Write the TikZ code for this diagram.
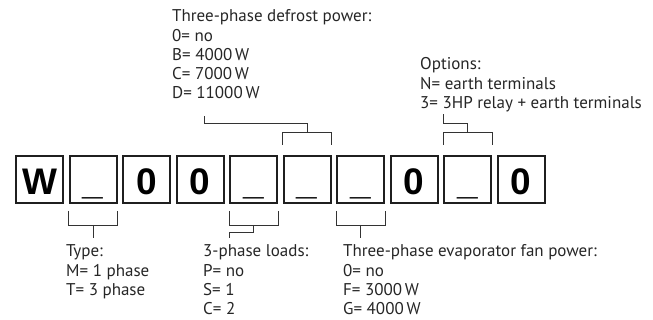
\documentclass[tikz,border=0pt]{standalone}
\usepackage{fontspec}
\setmainfont{PT Sans}
\newfontfamily\boxfont{Liberation Sans}
\usetikzlibrary{calc}
\newcommand\blocklines[1]{\vtop{\baselineskip=19.2pt\lineskiplimit=-50pt #1}}
\begin{document}
\begin{tikzpicture}[x=1pt,y=-1pt,
  cell/.style={draw=black!88,line width=2pt,minimum size=47pt,inner sep=0pt,
    text height=31pt,text depth=0pt,font=\boxfont\bfseries\fontsize{37}{37}\selectfont},
  lbl/.style={anchor=base west,inner sep=0pt,font=\fontsize{17}{20}\selectfont,text=black!85},
  br/.style={draw=black!80,line width=0.9pt}]
\useasboundingbox (0,0) rectangle (653,320);
% code boxes
\node[cell] (b1)  at (39.5,179.5) {W};
\node[cell] (b2)  at (93,179.5)   {\_};
\node[cell] (b3)  at (146.5,179.5){0};
\node[cell] (b4)  at (200,179.5)  {0};
\node[cell] (b5)  at (253.5,179.5){\_};
\node[cell] (b6)  at (307,179.5)  {\_};
\node[cell] (b7)  at (360.5,179.5){\_};
\node[cell] (b8)  at (414,179.5)  {0};
\node[cell] (b9)  at (467.5,179.5){\_};
\node[cell] (b10) at (521,179.5)  {0};
% labels
\node[lbl] (defrost) at (172,22) {\blocklines{\hbox{Three-phase defrost power:}\hbox{0= no}\hbox{B= 4000\,W}\hbox{C= 7000\,W}\hbox{D= 11000\,W}}};
\node[lbl] (options) at (420,70) {\blocklines{\hbox{Options:}\hbox{N= earth terminals}\hbox{3= 3HP relay + earth terminals}}};
\node[lbl] (type) at (66,257) {\blocklines{\hbox{Type:}\hbox{M= 1 phase}\hbox{T= 3 phase}}};
\node[lbl] (loads) at (203,257) {\blocklines{\hbox{3-phase loads:}\hbox{P= no}\hbox{S= 1}\hbox{C= 2}}};
\node[lbl] (evap) at (343,257) {\blocklines{\hbox{Three-phase evaporator fan power:}\hbox{0= no}\hbox{F= 3000\,W}\hbox{G= 4000\,W}}};
% bottom brackets
\draw[br] ($(b2.south west)+(0,7)$) |- ($(b2.south east)+(0,21)$) -- ($(b2.south east)+(0,7)$);
\draw[br] ($(b2.south)+(0,21)$) -- ($(b2.south)+(0,34)$);
\draw[br] ($(b5.south west)+(0,7)$) |- ($(b5.south east)+(0,21)$) -- ($(b5.south east)+(0,7)$);
\draw[br] ($(b5.south)+(0,21)$) -- ++(0,7) -| ($(b5.south west)+(0,34)$);
\draw[br] ($(b7.south west)+(0,7)$) |- ($(b7.south east)+(0,21)$) -- ($(b7.south east)+(0,7)$);
\draw[br] ($(b7.south)+(0,21)$) -- ($(b7.south)+(0,34)$);
% top brackets
\coordinate (dtop) at (204,116);
\draw[br] ($(b6.north west)+(0,-10)$) |- ($(b6.north east)+(0,-23)$) -- ($(b6.north east)+(0,-10)$);
\draw[br] ($(b6.north)+(0,-23)$) -- ++(0,-9) -| (dtop);
\draw[br] ($(b9.north west)+(0,-10)$) |- ($(b9.north east)+(0,-23)$) -- ($(b9.north east)+(0,-10)$);
\draw[br] ($(b9.north)+(0,-23)$) -- ++(0,-9) -| ($(b9.north west)+(0,-41)$);
\end{tikzpicture}
\end{document}
